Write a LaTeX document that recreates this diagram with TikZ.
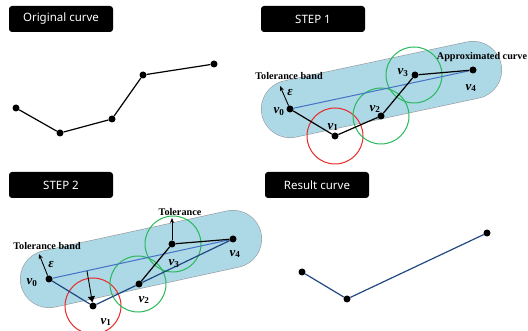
\documentclass[tikz,border=0pt]{standalone}
\usepackage{fontspec}
\setmainfont{Liberation Serif}
\newfontfamily\titlefont{Noto Sans}
\usetikzlibrary{arrows.meta}
\definecolor{bandfillc}{RGB}{173,216,230}
\definecolor{bandedgec}{RGB}{150,155,160}
\definecolor{axisblue}{RGB}{68,114,196}
\definecolor{darkblue}{RGB}{33,72,130}
\definecolor{cred}{RGB}{235,40,40}
\definecolor{cgreen}{RGB}{40,185,90}
\newcommand\vlab[1]{\textbf{\textit{v}}\textsubscript{\textbf{#1}}}
\begin{document}
\begin{tikzpicture}[x=1pt,y=-1pt,
  title/.style={fill=black, rounded corners=3pt, text=white,
    font=\titlefont\fontsize{11.5}{13}\selectfont,
    minimum width=104pt, minimum height=26pt, inner sep=0pt},
  pt/.style={circle, fill=black, inner sep=0pt, minimum size=7pt},
  seg/.style={line width=1.2pt, black},
  bseg/.style={line width=1.2pt, darkblue},
  axis/.style={line width=1pt, axisblue},
  ring/.style={line width=1pt},
  bandrim/.style={line width=58pt, line cap=round, bandedgec},
  bandbody/.style={line width=56.8pt, line cap=round, bandfillc},
  vl/.style={font=\fontsize{13}{13}\selectfont, inner sep=0pt},
  small/.style={font=\bfseries\fontsize{10.2}{10}\selectfont, inner sep=0pt},
  arr/.style={line width=0.9pt, -{Stealth[length=5pt,width=4pt]}}
]
\useasboundingbox (0,0) rectangle (528,331);

% ---------- titles
\node[title] (t1) at (61,19) {Original curve};
\node[title] (t2) at (313,19) {STEP 1};
\node[title] (t3) at (61,185) {STEP 2};
\node[title] (t4) at (317,185) {Result curve};

% ---------- Original curve
\node[pt] (o0) at (16,108) {};
\node[pt] (o1) at (60,133) {};
\node[pt] (o2) at (112,119) {};
\node[pt] (o3) at (143,75) {};
\node[pt] (o4) at (214,64) {};
\draw[seg] (o0) -- (o1) -- (o2) -- (o3) -- (o4);

% ---------- STEP 1
\coordinate (a0) at (290,109);
\coordinate (a4) at (473,70);
\draw[bandrim] (a0) -- (a4);
\draw[bandbody] (a0) -- (a4);
\draw[ring, cred] (335,136) circle (28);
\draw[ring, cgreen] (381,116) circle (28);
\draw[ring, cgreen] (414,75) circle (28);
\node[pt] (s0) at (290,109) {};
\node[pt] (s1) at (335,136) {};
\node[pt] (s2) at (381,116) {};
\node[pt] (s3) at (415,75) {};
\node[pt] (s4) at (473,70) {};
\draw[axis] (s0) -- (s4);
\draw[seg] (s0) -- (s1) -- (s2) -- (s3) -- (s4);
\coordinate (e1) at (280,86);
\draw[arr] (s0) -- (e1);
\node[vl] (l1e) at (290,93) {\textbf{\textit{ε}}};
\node[vl] (l10) at (279,112) {\vlab{0}};
\node[vl] (l11) at (333,127) {\vlab{1}};
\node[vl] (l12) at (375,109) {\vlab{2}};
\node[vl] (l13) at (403,73) {\vlab{3}};
\node[vl] (l14) at (471,88) {\vlab{4}};
\node[small] (tb1) at (289,76) {Tolerance band};
\node[small] (ac) at (482,57) {Approximated curve};

% ---------- STEP 2
\coordinate (b0) at (49,279);
\coordinate (b4) at (233,239);
\draw[bandrim] (b0) -- (b4);
\draw[bandbody] (b0) -- (b4);
\draw[ring, cred] (93,306) circle (28);
\draw[ring, cgreen] (138,284) circle (28);
\draw[ring, cgreen] (173,244) circle (28);
\node[pt] (u0) at (49,279) {};
\node[pt] (u1) at (93,306) {};
\node[pt] (u2) at (139,284) {};
\node[pt] (u3) at (172,244) {};
\node[pt] (u4) at (233,239) {};
\draw[axis] (u0) -- (u4);
\draw[bseg] (u0) -- (u1) -- (u2) -- (u4);
\draw[seg] (u2) -- (u3) -- (u4);
\coordinate (foot) at (87,271);
\draw[line width=0.9pt, -{Triangle[length=6pt,width=7pt]}] (foot) -- (u1);
\coordinate (e2) at (39,254);
\draw[arr] (u0) -- (e2);
\coordinate (tt) at (172,218);
\draw[arr] (u3) -- (tt);
\node[vl] (l2e) at (51,265) {\textbf{\textit{ε}}};
\node[vl] (l20) at (32,283) {\vlab{0}};
\node[vl] (l21) at (106,322) {\vlab{1}};
\node[vl] (l22) at (144,300) {\vlab{2}};
\node[vl] (l23) at (174,264) {\vlab{3}};
\node[vl] (l24) at (235,254) {\vlab{4}};
\node[small] (tb2) at (47,246) {Tolerance band};
\node[small] (tol) at (180,212) {Tolerance};

% ---------- Result curve
\node[pt] (r0) at (302,272) {};
\node[pt] (r1) at (347,299) {};
\node[pt] (r2) at (487,233) {};
\draw[bseg] (r0) -- (r1) -- (r2);
\end{tikzpicture}
\end{document}
